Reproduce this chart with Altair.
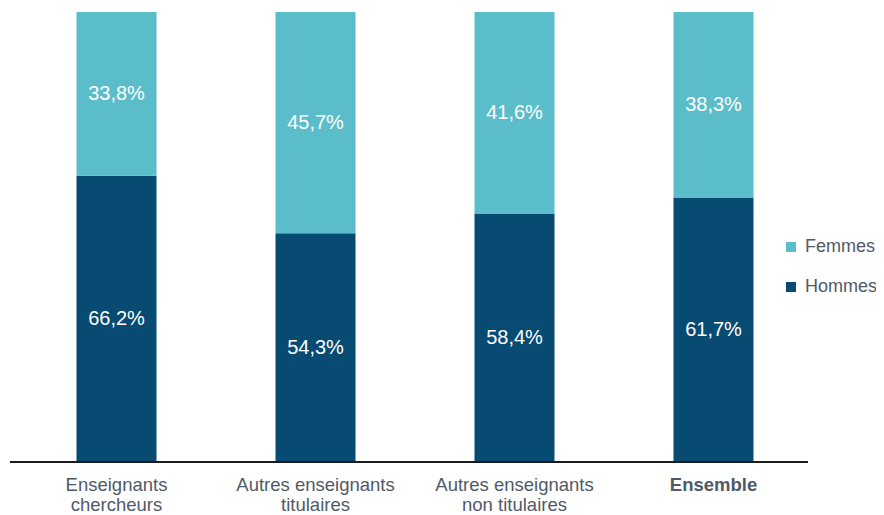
import altair as alt
import pandas as pd

categories = ["Enseignants\nchercheurs", "Autres enseignants\ntitulaires",
              "Autres enseignants\nnon titulaires", "Ensemble"]
hommes = [66.2, 54.3, 58.4, 61.7]
femmes = [33.8, 45.7, 41.6, 38.3]
series = ["Femmes", "Hommes"]
colors = ["#5BBDC9", "#074B73"]

Y_MIN, Y_MAX = 7.1, 100

rows = []
for c, h, f in zip(categories, hommes, femmes):
    rows.append({"cat": c, "serie": "Hommes", "val": h, "ord": 0,
                 "lab": f"{h:.1f}%".replace(".", ","), "ly": (Y_MIN + h) / 2})
    rows.append({"cat": c, "serie": "Femmes", "val": f, "ord": 1,
                 "lab": f"{f:.1f}%".replace(".", ","), "ly": (h + h + f) / 2})
df = pd.DataFrame(rows)

xenc = alt.X("cat:N", sort=categories, title=None,
             scale=alt.Scale(paddingInner=0, paddingOuter=0),
             axis=alt.Axis(domain=False, ticks=False, labelAngle=0,
                           labelExpr="split(datum.label, '\\n')",
                           labelFont="Liberation Sans", labelFontSize=18.5,
                           labelColor="#505A66", labelPadding=13,
                           labelLineHeight=20, labelBaseline="top",
                           labelFontWeight={"condition": {"test": "datum.value == 'Ensemble'", "value": "bold"}, "value": "normal"}))

bars = alt.Chart(df).mark_bar(size=80, clip=True).encode(
    x=xenc,
    y=alt.Y("val:Q", stack="zero", axis=None,
            scale=alt.Scale(domain=[Y_MIN, Y_MAX], zero=False, nice=False)),
    color=alt.Color("serie:N", title=None,
                    scale=alt.Scale(domain=series, range=colors),
                    legend=alt.Legend(orient="none", legendX=765, legendY=226,
                                      symbolType="square", symbolSize=100,
                                      symbolStrokeWidth=0,
                                      labelFont="Liberation Sans", labelFontSize=18,
                                      labelColor="#505A66", labelOffset=5,
                                      rowPadding=22, padding=0)),
    order=alt.Order("ord:Q"),
)

text = alt.Chart(df).mark_text(color="white", font="Liberation Sans", fontSize=20).encode(
    x=alt.X("cat:N", sort=categories),
    y=alt.Y("ly:Q"),
    text="lab:N",
)

axis_line = alt.Chart(alt.Data(values=[{}])).mark_rule(color="#1A1A1A", strokeWidth=2).encode(
    x=alt.value(-7), x2=alt.value(791), y=alt.value(450)
)

chart = alt.layer(bars, text, axis_line).properties(
    width=796, height=450,
    autosize=alt.AutoSizeParams(type="none"),
    padding={"left": 9, "top": 4, "right": 63, "bottom": 53},
).configure_view(stroke=None)

chart.save("out.html", embed_options={"renderer": "svg", "actions": False})
